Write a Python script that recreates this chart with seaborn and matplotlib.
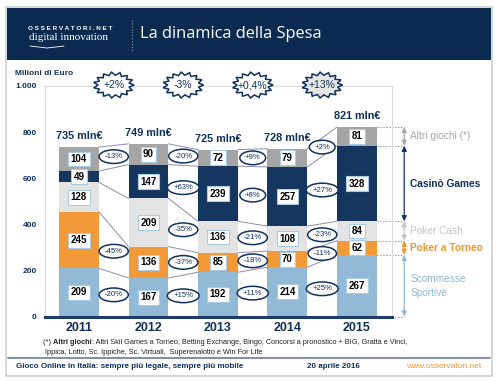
import matplotlib
matplotlib.use("Agg")
import matplotlib.pyplot as plt
from matplotlib.lines import Line2D
from matplotlib.patches import Polygon, Rectangle
from matplotlib.text import Annotation
from matplotlib.transforms import ScaledTranslation
import numpy as np
import pandas as pd
import seaborn as sns

YEARS = ["2011", "2012", "2013", "2014", "2015"]
SCOMMESSE = [209, 167, 192, 214, 267]
POKER_TORNEO = [245, 136, 85, 70, 62]
POKER_CASH = [128, 209, 136, 108, 84]
CASINO = [49, 147, 239, 257, 328]
ALTRI = [104, 90, 72, 79, 81]
TOTALS = [735, 749, 725, 728, 821]
YEAR_GROWTH = ["+2%", "-3%", "+0,4%", "+13%"]
# growth of each segment between consecutive years (None = no label)
GROWTH_SCOMMESSE = ["-20%", "+15%", "+11%", "+25%"]
GROWTH_TORNEO = ["-45%", "-37%", "-18%", "-11%"]
GROWTH_CASH = [None, "-35%", "-21%", "-23%"]
GROWTH_CASINO = [None, "+63%", "+8%", "+27%"]
GROWTH_ALTRI = ["-13%", "-20%", "+9%", "+2%"]
SEGMENT_NAMES = ["Scommesse\nSportive", "Poker a Torneo", "Poker Cash",
                 "Casinò Games", "Altri giochi (*)"]
Y_TICKS = [0, 200, 400, 600, 800, 1000]
Y_TICK_LABELS = ["0", "200", "400", "600", "800", "1.000"]

NAVY = "#10325c"
COLOURS = ["#92bad6", "#f39a38", "#e3e3e3", "#14365f", "#a5a5a5"]
LABEL_COLOURS = ["#8fb8d4", "#f0962e", "#c4c4c4", NAVY, "#a8a8a8"]
W, H = 500, 382


def fx(px):
    return px / W


def fy(py):
    return 1 - py / H


def star_badge(ax, x, y, face):
    """Jagged badge around (x, y) in data units, sized in inches."""
    n = 30
    ang = np.linspace(0, 2 * np.pi, n, endpoint=False)
    r = np.where(np.arange(n) % 2 == 0, 1.0, 0.76)
    verts = np.column_stack([0.205 * r * np.cos(ang), 0.13 * r * np.sin(ang)])
    trans = ax.figure.dpi_scale_trans + ScaledTranslation(x, y, ax.transData)
    ax.add_patch(Polygon(verts, closed=True, transform=trans, facecolor=face,
                         edgecolor=NAVY, lw=1.1, clip_on=False, zorder=7))


sns.set_theme(style="white")
plt.rcParams["font.family"] = ["Liberation Sans", "DejaVu Sans"]

segments = [SCOMMESSE, POKER_TORNEO, POKER_CASH, CASINO, ALTRI]
growths = [GROWTH_SCOMMESSE, GROWTH_TORNEO, GROWTH_CASH, GROWTH_CASINO, GROWTH_ALTRI]
seg = np.array(segments, dtype=float)
tops = np.cumsum(seg, axis=0)
bottoms = tops - seg
centres = bottoms + seg / 2

fig = plt.figure(figsize=(W / 100, H / 100), dpi=100, facecolor="white")

# slide frame, header and footer
fig.patches.append(Rectangle((fx(6), fy(376)), fx(486), 369 / H, transform=fig.transFigure,
                             fill=False, edgecolor="#cfcfcf", lw=1.2))
fig.patches.append(Rectangle((fx(7), fy(60)), fx(484), 52 / H, transform=fig.transFigure,
                             facecolor="#0b2a50", edgecolor="none"))
fig.text(fx(28), fy(28), "O S S E R V A T O R I . N E T", color="white", fontsize=4.6,
         fontweight="bold", va="center")
fig.text(fx(29), fy(38), "digital innovation", color="white", fontsize=8,
         family="Liberation Serif", va="center")
fig.lines.append(Line2D([fx(30), fx(47), fx(64)], [fy(46), fy(48), fy(46)],
                        transform=fig.transFigure, color="white", lw=0.6))
fig.lines.append(Line2D([fx(132), fx(132)], [fy(20), fy(52)], transform=fig.transFigure,
                        color="#8a9bb5", lw=0.8, ls=":"))
fig.text(fx(140), fy(34), "La dinamica della Spesa", color="white", fontsize=11.8,
         family=["Open Sans", "DejaVu Sans"], va="center")

fig.lines.append(Line2D([fx(8), fx(490)], [fy(358), fy(358)], transform=fig.transFigure,
                        color="#6a7a9a", lw=1.2))
fig.text(fx(16), fy(367), "Gioco Online in Italia: sempre più legale, sempre più mobile",
         color=NAVY, fontsize=5.8, fontweight="bold", va="center")
fig.text(fx(307), fy(367), "20 aprile 2016", color=NAVY, fontsize=5.8,
         fontweight="bold", va="center")
fig.text(fx(406), fy(367), "www.osservatori.net", color="#f0962e", fontsize=6, va="center")

# footnote, with "Altri giochi" in bold
prev = fig.text(fx(43), fy(343), "(*) ", color="#222222", fontsize=5.3, va="center")
for piece, weight in [("Altri giochi", "bold"),
                      (": Altri Skil Games a Torneo, Betting Exchange, Bingo, Concorsi a "
                       "pronostico + BIG, Gratta e Vinci,", "normal")]:
    prev = fig.add_artist(Annotation(piece, xy=(1, 0), xycoords=prev, va="bottom",
                                     ha="left", fontsize=5.3, fontweight=weight,
                                     color="#222222"))
fig.text(fx(45), fy(352), "Ippica, Lotto, Sc. Ippiche, Sc. Virtuali,  Superenalotto e Win For Life",
         color="#222222", fontsize=5.3, va="center")

# chart
ax = fig.add_axes([fx(45), fy(316.5), fx(347), 230.5 / H])
bar_w = 0.575
for k in range(len(segments) - 1, -1, -1):
    df = pd.DataFrame({"anno": YEARS, "valore": tops[k]})
    sns.barplot(data=df, x="anno", y="valore", color=COLOURS[k], saturation=1,
                width=bar_w, errorbar=None, edgecolor="none", ax=ax)

ax.set_xlim(-0.489, 4.504)
ax.set_ylim(0, 1000)
ax.set_xlabel("")
ax.set_ylabel("")
ax.set_yticks(Y_TICKS, Y_TICK_LABELS)
ax.tick_params(axis="y", length=0, pad=6, labelsize=6, labelcolor=NAVY)
ax.tick_params(axis="x", length=0, pad=4, labelsize=9, labelcolor=NAVY)
for lab in ax.get_xticklabels() + ax.get_yticklabels():
    lab.set_fontweight("bold")
for side in ["left", "top", "right"]:
    ax.spines[side].set_color("#dcdcdc")
    ax.spines[side].set_linewidth(0.8)
ax.spines["bottom"].set_color("#1d3c68")
ax.spines["bottom"].set_linewidth(2.2)
ax.set_facecolor("none")

half = bar_w / 2

# connectors between bars
for k in range(len(segments)):
    for i in range(len(YEARS) - 1):
        ax.plot([i + half, i + 1 - half], [tops[k][i], tops[k][i + 1]],
                color="#8c8cae", lw=0.7, zorder=1)

# value boxes
for k in range(len(segments)):
    for i in range(len(YEARS)):
        ax.text(i, centres[k][i], f"{segments[k][i]}", ha="center", va="center",
                fontsize=7, fontweight="bold", color="black", zorder=5,
                bbox=dict(boxstyle="square,pad=0.25", facecolor="white",
                          edgecolor="#a9cbe6", lw=0.8))

# growth ellipses
for k in range(len(segments)):
    for i in range(len(YEARS) - 1):
        lab = growths[k][i]
        if lab is None:
            continue
        yy = (centres[k][i] + centres[k][i + 1]) / 2
        ax.text(i + 0.5, yy, lab, ha="center", va="center", fontsize=5.6,
                color=NAVY, zorder=6,
                bbox=dict(boxstyle="ellipse,pad=0.17", facecolor="white",
                          edgecolor=NAVY, lw=1.1))

# totals
for i in range(len(YEARS)):
    ax.text(i, tops[-1][i] + 48, f"{TOTALS[i]} mln€", ha="center", va="center",
            fontsize=7.8, fontweight="bold", color=NAVY)

# yearly growth badges
for i, lab in enumerate(YEAR_GROWTH):
    face = "#e6e6e6" if i == len(YEAR_GROWTH) - 1 else "white"
    star_badge(ax, i + 0.5, 1004, face)
    ax.text(i + 0.5, 1004, lab, ha="center", va="center", fontsize=7.5, color=NAVY,
            zorder=8, clip_on=False)

ax.text(-0.92, 1055, "Milioni di Euro", fontsize=6, fontweight="bold", color=NAVY,
        ha="left", va="center", clip_on=False)

# right-hand legend with brackets on the last bar
last = len(YEARS) - 1
x_br = 4.68
levels = [0] + list(tops[:, last])
for lv in levels:
    ax.plot([last + half, x_br], [lv, lv], color="#7a7aa0", lw=0.8, ls=":",
            clip_on=False, zorder=2)
for k in range(len(segments)):
    ax.annotate("", xy=(x_br, tops[k][last]), xytext=(x_br, bottoms[k][last]),
                arrowprops=dict(arrowstyle="<|-|>,head_length=0.25,head_width=0.12",
                                color=LABEL_COLOURS[k], lw=0.9, shrinkA=0, shrinkB=0),
                annotation_clip=False)
    bold = k in (1, 3)
    ax.text(x_br + 0.09, centres[k][last], SEGMENT_NAMES[k], ha="left", va="center",
            fontsize=7.3, color=LABEL_COLOURS[k], fontweight="bold" if bold else "normal",
            linespacing=1.5, clip_on=False)

fig.savefig("out.png", dpi=100)
